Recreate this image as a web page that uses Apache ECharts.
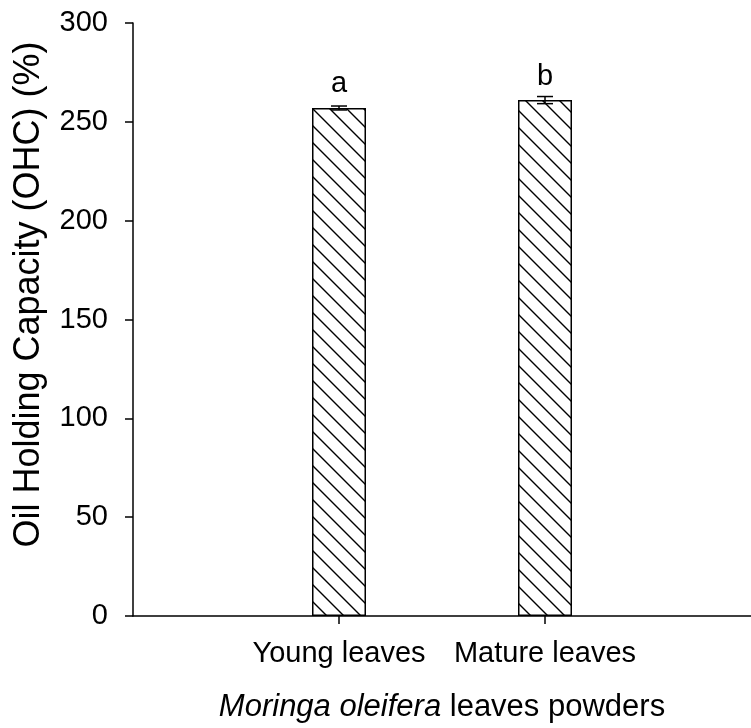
<!DOCTYPE html>
<html>
<head>
<meta charset="utf-8">
<script src="https://cdn.jsdelivr.net/npm/echarts@6/dist/echarts.min.js"></script>
<style>
html,body{margin:0;padding:0;background:#fff;}
#chart{width:751px;height:728px;}
</style>
</head>
<body>
<div id="chart"></div>
<script>
// Data
var categories = ['', 'Young leaves', 'Mature leaves', ''];
var barCats = ['Young leaves', 'Mature leaves'];
var values = [257, 261];
var errors = [1.0, 1.8];
var letters = ['a', 'b'];
var yTicks = [0, 50, 100, 150, 200, 250, 300];

var FONT = '"Liberation Sans", Arial, sans-serif';

function hatch() {
  var s = 17;
  var c = document.createElement('canvas');
  c.width = s; c.height = s;
  var ctx = c.getContext('2d');
  ctx.fillStyle = '#fff';
  ctx.fillRect(0, 0, s, s);
  ctx.strokeStyle = '#000';
  ctx.lineWidth = 1.4;
  ctx.beginPath();
  ctx.moveTo(-2, -2); ctx.lineTo(s + 2, s + 2);
  ctx.moveTo(-2, s - 2); ctx.lineTo(2, s + 2);
  ctx.moveTo(s - 2, -2); ctx.lineTo(s + 2, 2);
  ctx.stroke();
  return c;
}

var chart = echarts.init(document.getElementById('chart'));
var barData = barCats.map(function (c, i) {
  return { value: [c, values[i]], label: { formatter: letters[i] } };
});
var errData = barCats.map(function (c, i) { return [c, values[i], errors[i]]; });

chart.setOption({
  animation: false,
  backgroundColor: '#fff',
  grid: { left: 133, top: 23, width: 626, height: 595 },
  xAxis: {
    type: 'category',
    data: categories,
    boundaryGap: false,
    axisLine: { lineStyle: { color: '#000', width: 1.5 } },
    axisTick: {
      length: 8,
      lineStyle: { color: '#000', width: 1.5 },
      interval: function (idx) { return idx === 1 || idx === 2; }
    },
    axisLabel: {
      interval: function (idx) { return idx === 1 || idx === 2; },
      color: '#000', fontSize: 29, fontFamily: FONT, margin: 23
    },
    splitLine: { show: false },
    name: '{i|Moringa oleifera} leaves powders',
    nameLocation: 'middle',
    nameGap: 76,
    nameTextStyle: {
      color: '#000', fontSize: 31, fontFamily: FONT,
      rich: { i: { fontStyle: 'italic', fontSize: 31, fontFamily: FONT, color: '#000' } }
    }
  },
  yAxis: {
    type: 'value',
    min: 0, max: 300, interval: 50,
    axisLine: { show: true, lineStyle: { color: '#000', width: 1.5 } },
    axisTick: { show: true, length: 8, lineStyle: { color: '#000', width: 1.5 } },
    axisLabel: {
      color: '#000', fontSize: 29, fontFamily: FONT, margin: 25,
      formatter: function (v) { return yTicks.indexOf(v) >= 0 ? String(v) : ''; }
    },
    splitLine: { show: false },
    name: 'Oil Holding Capacity (OHC) (%)',
    nameLocation: 'middle',
    nameRotate: 90,
    nameGap: 86,
    nameTextStyle: { color: '#000', fontSize: 36, fontFamily: FONT, padding: [0, 0, 0, 50] }
  },
  series: [
    {
      type: 'bar',
      data: barData,
      barWidth: 54,
      itemStyle: {
        color: { image: hatch(), repeat: 'repeat' },
        borderColor: '#000',
        borderWidth: 1.5
      },
      label: {
        show: true, position: 'top', distance: 9,
        color: '#000', fontSize: 29, fontFamily: FONT
      }
    },
    {
      type: 'custom',
      data: errData,
      z: 10,
      renderItem: function (params, api) {
        var c = api.value(0);
        var v = api.value(1);
        var e = api.value(2);
        var hi = api.coord([c, v + e]);
        var lo = api.coord([c, v - e]);
        var hw = 8;
        var st = { stroke: '#000', lineWidth: 1.5 };
        return {
          type: 'group',
          children: [
            { type: 'line', shape: { x1: hi[0], y1: hi[1], x2: lo[0], y2: lo[1] }, style: st },
            { type: 'line', shape: { x1: hi[0] - hw, y1: hi[1], x2: hi[0] + hw, y2: hi[1] }, style: st },
            { type: 'line', shape: { x1: lo[0] - hw, y1: lo[1], x2: lo[0] + hw, y2: lo[1] }, style: st }
          ]
        };
      }
    }
  ]
});
</script>
</body>
</html>
